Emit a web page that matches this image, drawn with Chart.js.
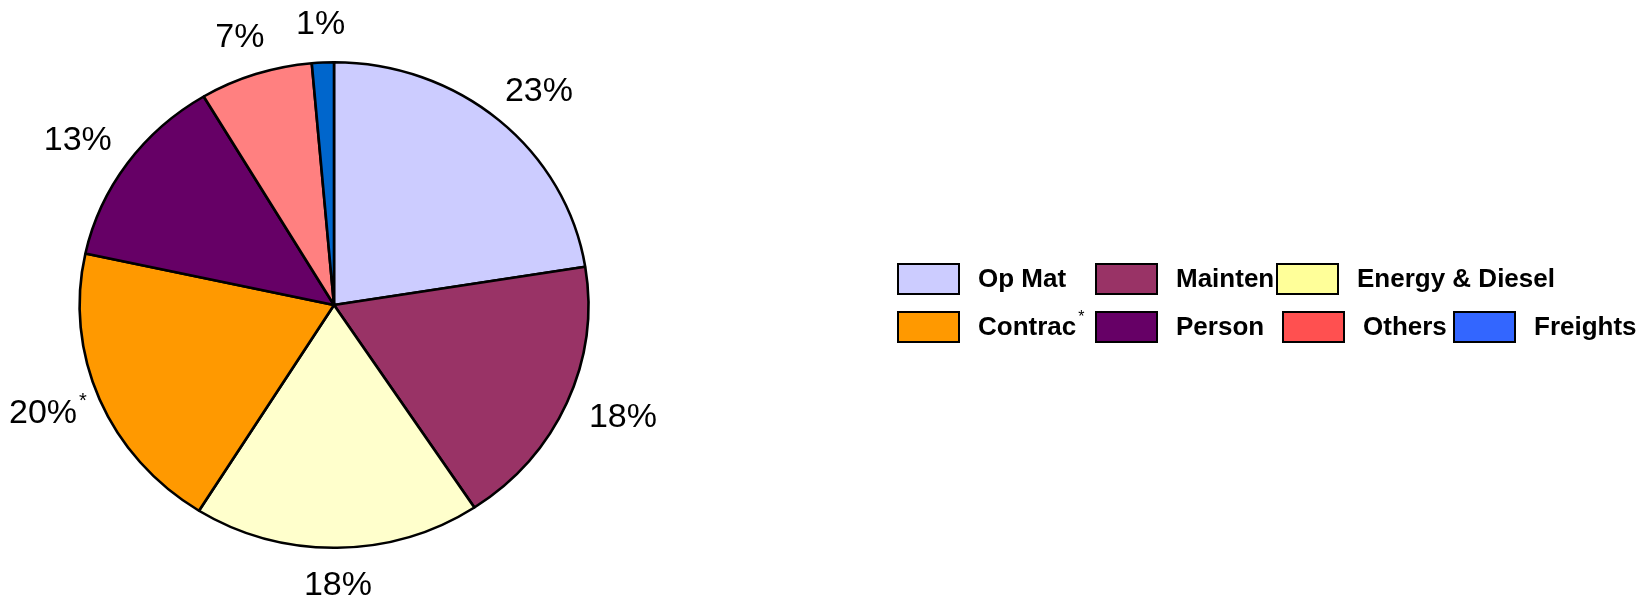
<!DOCTYPE html>
<html>
<head>
<meta charset="utf-8">
<script src="https://cdn.jsdelivr.net/npm/chart.js@4/dist/chart.umd.min.js"></script>
<style>
  html, body { margin: 0; padding: 0; background: #fff; }
</style>
</head>
<body>
<canvas id="myChart" width="1652" height="599"></canvas>
<script>
const categories = ['Op Mat', 'Mainten', 'Energy & Diesel', 'Contrac', 'Person', 'Others', 'Freights']
const notes = ['', '', '', '*', '', '', '']
const values = [22.6, 18.3, 18.3, 19.6, 13.1, 7.2, 1.4]
const pctLabels = ['23%', '18%', '18%', '20%', '13%', '7%', '1%']
const sliceColors = ['#CCCCFF', '#993366', '#FFFFCC', '#FF9900', '#660066', '#FF8080', '#0066CC']
const legendColors = ['#CCCCFF', '#993366', '#FFFF99', '#FF9900', '#660066', '#FF5050', '#3366FF']

const canvas = document.getElementById('myChart')
const FONT = '"Liberation Sans", Arial, sans-serif'
const STRETCH = 1.048 // the original pie is a bit wider than tall

// stretch the pie sideways
const widenPie = {
    id: 'widenPie',
    beforeDatasetsDraw(chart) {
        const arc = chart.getDatasetMeta(0).data[0]
        const ctx = chart.ctx
        ctx.save()
        ctx.translate(arc.x, arc.y)
        ctx.scale(STRETCH, 1)
        ctx.translate(-arc.x, -arc.y)
    },
    afterDatasetsDraw(chart) {
        chart.ctx.restore()
    }
}

// percent labels outside each slice
const sliceLabels = {
    id: 'sliceLabels',
    afterDatasetsDraw(chart) {
        const ctx = chart.ctx
        const arcs = chart.getDatasetMeta(0).data
        ctx.save()
        ctx.fillStyle = '#000'
        ctx.textBaseline = 'middle'
        ctx.textAlign = 'center'
        arcs.forEach((arc, i) => {
            const mid = (arc.startAngle + arc.endAngle) / 2
            const r = arc.outerRadius + 26
            const px = arc.x + Math.cos(mid) * r * STRETCH
            const py = arc.y + Math.sin(mid) * r
            ctx.font = '34px ' + FONT
            const w = ctx.measureText(pctLabels[i]).width
            const h = 24
            const cx = px + Math.cos(mid) * w / 2
            const cy = py + Math.sin(mid) * h / 2
            ctx.fillText(pctLabels[i], cx, cy)
            if (notes[i]) {
                ctx.font = '20px ' + FONT
                ctx.textAlign = 'left'
                ctx.fillText(notes[i], cx + w / 2 + 2, cy - 12)
                ctx.textAlign = 'center'
            }
        })
        ctx.restore()
    }
}

// two-row legend at the right
const gridLegend = {
    id: 'gridLegend',
    afterDraw(chart) {
        const ctx = chart.ctx
        const rows = [[0, 1, 2], [3, 4, 5, 6]]
        const cols = [[0, 198, 379], [0, 198, 385, 556]]
        const left = 898, tops = [264, 312]
        ctx.save()
        ctx.textBaseline = 'middle'
        rows.forEach((row, r) => {
            row.forEach((idx, c) => {
                const x = left + cols[r][c]
                const y = tops[r]
                ctx.fillStyle = legendColors[idx]
                ctx.fillRect(x, y, 61, 30)
                ctx.strokeStyle = '#000'
                ctx.lineWidth = 2
                ctx.strokeRect(x, y, 61, 30)
                ctx.fillStyle = '#000'
                ctx.font = 'bold 26px ' + FONT
                const tx = x + 80
                ctx.fillText(categories[idx], tx, y + 16)
                if (notes[idx]) {
                    const tw = ctx.measureText(categories[idx]).width
                    ctx.font = '16px ' + FONT
                    ctx.fillText(notes[idx], tx + tw + 2, y + 6)
                }
            })
        })
        ctx.restore()
    }
}

const config = {
    type: 'pie',
    data: {
        labels: categories,
        datasets: [{
            data: values,
            backgroundColor: sliceColors,
            borderColor: '#000',
            borderWidth: 2.5
        }]
    },
    options: {
        responsive: false,
        animation: false,
        layout: {
            padding: {left: 90, top: 61, bottom: 50, right: 1074}
        },
        plugins: {
            legend: {display: false},
            tooltip: {enabled: false}
        }
    },
    plugins: [widenPie, sliceLabels, gridLegend]
}

new Chart(canvas, config)
</script>
</body>
</html>
